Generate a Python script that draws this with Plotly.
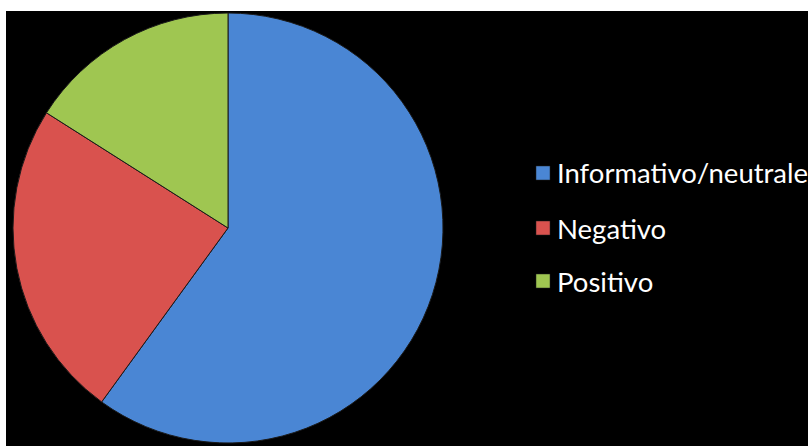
import plotly.graph_objects as go

labels = ["Informativo/neutrale", "Negativo", "Positivo"]
values = [60, 24, 16]
colors = ["#4A86D4", "#D9524E", "#9FC651"]

W, H = 808, 446
ML, MT = 6, 11
PW, PH = W - ML, H - MT

def px(x):
    return (x - ML) / PW

def py(y):
    return (H - y) / PH

fig = go.Figure()
fig.add_trace(go.Pie(
    labels=labels,
    values=values,
    sort=False,
    direction="clockwise",
    rotation=0,
    textinfo="none",
    hoverinfo="label+percent",
    marker=dict(colors=colors, line=dict(color="#1a1a1a", width=1)),
    domain=dict(x=[px(13), px(443)], y=[py(443), py(13)]),
    showlegend=False,
))

shapes = [dict(type="rect", xref="paper", yref="paper", x0=0, x1=1, y0=0, y1=1,
               fillcolor="black", line=dict(width=0), layer="below")]
annotations = []
ycent = [173, 228, 281]
for lab, col, yc in zip(labels, colors, ycent):
    shapes.append(dict(type="rect", xref="paper", yref="paper",
                       x0=px(536), x1=px(550), y0=py(yc + 7), y1=py(yc - 7),
                       fillcolor=col, line=dict(color="#222", width=0.5)))
    annotations.append(dict(xref="paper", yref="paper", x=px(555), y=py(yc),
                            xanchor="left", yanchor="middle", showarrow=False,
                            text=lab, font=dict(family="Lato", size=27.5, color="white")))

fig.update_layout(
    width=W, height=H,
    margin=dict(l=ML, r=0, t=MT, b=0),
    paper_bgcolor="white",
    plot_bgcolor="black",
    shapes=shapes,
    annotations=annotations,
)

fig.write_html("out.html",
               config={"displayModeBar": False},
               post_script="document.body.style.margin='0';document.body.style.overflow='hidden';")
